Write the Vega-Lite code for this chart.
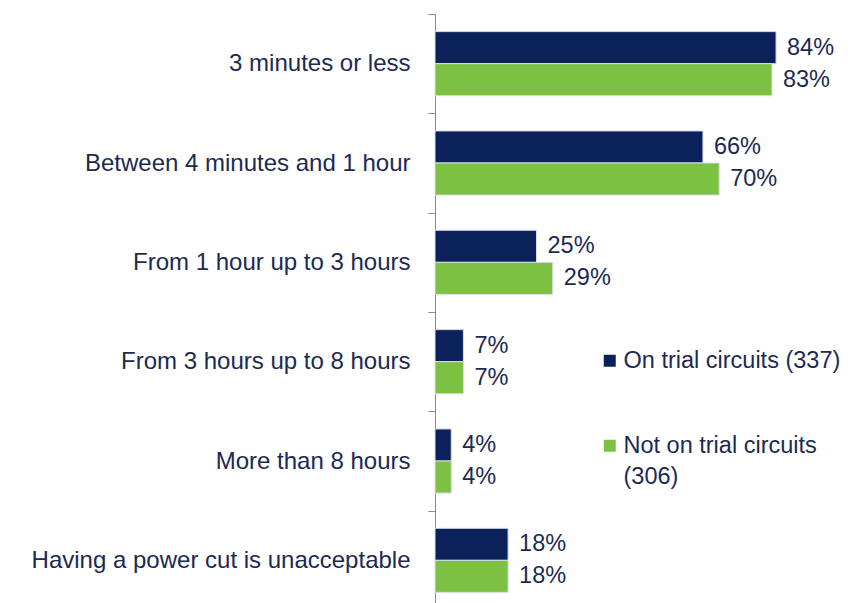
{
  "$schema": "https://vega.github.io/schema/vega-lite/v6.json",
  "autosize": {"type": "none"},
  "padding": {"left": 435, "top": 14, "right": 15, "bottom": 0},
  "width": 406,
  "height": 596,
  "background": "white",
  "config": {"view": {"stroke": null}, "font": "Liberation Sans", "style": {"guide-label": {"lineHeight": 31}}},
  "data": {"values": [
    {"cat": "3 minutes or less", "group": "On trial circuits (337)", "value": 0.84},
    {"cat": "3 minutes or less", "group": "Not on trial circuits (306)", "value": 0.83},
    {"cat": "Between 4 minutes and 1 hour", "group": "On trial circuits (337)", "value": 0.66},
    {"cat": "Between 4 minutes and 1 hour", "group": "Not on trial circuits (306)", "value": 0.70},
    {"cat": "From 1 hour up to 3 hours", "group": "On trial circuits (337)", "value": 0.25},
    {"cat": "From 1 hour up to 3 hours", "group": "Not on trial circuits (306)", "value": 0.29},
    {"cat": "From 3 hours up to 8 hours", "group": "On trial circuits (337)", "value": 0.07},
    {"cat": "From 3 hours up to 8 hours", "group": "Not on trial circuits (306)", "value": 0.07},
    {"cat": "More than 8 hours", "group": "On trial circuits (337)", "value": 0.04},
    {"cat": "More than 8 hours", "group": "Not on trial circuits (306)", "value": 0.04},
    {"cat": "Having a power cut is unacceptable", "group": "On trial circuits (337)", "value": 0.18},
    {"cat": "Having a power cut is unacceptable", "group": "Not on trial circuits (306)", "value": 0.18}
  ]},
  "encoding": {
    "y": {"field": "cat", "type": "nominal", "sort": null,
      "scale": {"paddingInner": 0, "paddingOuter": 0},
      "axis": {"title": null, "tickBand": "extent", "labelFontSize": 24, "labelColor": "#1c2a52",
        "labelPadding": 18, "tickSize": 7, "tickColor": "#8a8a8a", "domainColor": "#8a8a8a", "labelLimit": 500}},
    "yOffset": {"field": "group", "type": "nominal", "sort": ["On trial circuits (337)", "Not on trial circuits (306)"],
      "scale": {"paddingInner": 0, "paddingOuter": 0.55}},
    "x": {"field": "value", "type": "quantitative", "scale": {"domain": [0, 1]}, "axis": null}
  },
  "layer": [
    {"mark": {"type": "bar", "stroke": "#d8dde6", "strokeWidth": 1},
     "encoding": {"color": {"field": "group", "type": "nominal", "sort": ["On trial circuits (337)", "Not on trial circuits (306)"],
        "scale": {"domain": ["On trial circuits (337)", "Not on trial circuits (306)"], "range": ["#0b2159", "#7cc142"]},
        "legend": {"title": null, "orient": "none", "legendX": 163, "legendY": 335, "symbolType": "square", "symbolSize": 144,
          "symbolStrokeWidth": 0, "labelFontSize": 23.5, "labelColor": "#1c2a52", "labelLimit": 400, "rowPadding": 60,
          "labelOffset": 2,
          "labelExpr": "datum.label == 'Not on trial circuits (306)' ? ['Not on trial circuits', '(306)'] : datum.label"}}}},
    {"mark": {"type": "text", "align": "left", "dx": 11, "fontSize": 23.5, "color": "#1c2a52"},
     "encoding": {"text": {"field": "value", "type": "quantitative", "format": ".0%"},
       "detail": {"field": "group"}}}
  ]
}
